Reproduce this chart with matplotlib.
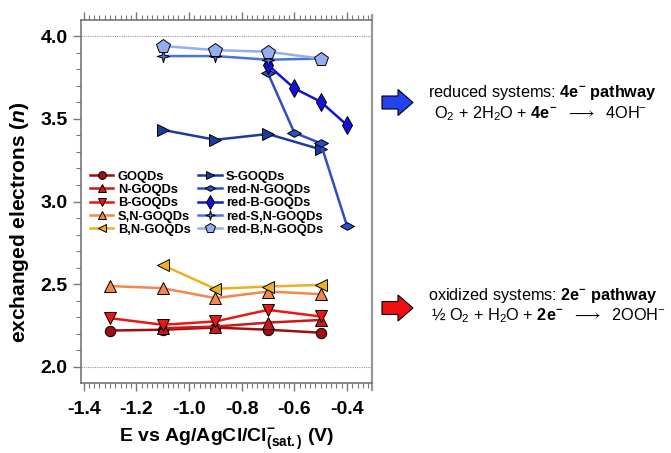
import matplotlib
matplotlib.use("Agg")
import matplotlib.pyplot as plt
from matplotlib.ticker import MultipleLocator
from matplotlib.patches import FancyArrow
from matplotlib.path import Path
from matplotlib.lines import Line2D

plt.rcParams['font.family'] = ['Liberation Sans', 'DejaVu Sans']
plt.rcParams['mathtext.fontset'] = 'custom'
plt.rcParams['mathtext.rm'] = 'Liberation Sans'
plt.rcParams['mathtext.it'] = 'Liberation Sans:italic'
plt.rcParams['mathtext.bf'] = 'Liberation Sans:bold'
plt.rcParams['mathtext.bfit'] = 'Liberation Sans:italic:bold'

# ---- data: potential (V) and number of exchanged electrons ----
E_goqd = [-1.3, -1.1, -0.9, -0.7, -0.5]
n_goqd = [2.22, 2.225, 2.238, 2.225, 2.207]

E_n = [-1.1, -0.9, -0.7, -0.5]
n_n = [2.234, 2.244, 2.268, 2.284]

E_b = [-1.3, -1.1, -0.9, -0.7, -0.5]
n_b = [2.295, 2.255, 2.275, 2.345, 2.305]

E_sn = [-1.3, -1.1, -0.9, -0.7, -0.5]
n_sn = [2.489, 2.476, 2.416, 2.456, 2.44]

E_bn = [-1.1, -0.9, -0.7, -0.5]
n_bn = [2.616, 2.472, 2.486, 2.496]

E_s = [-1.1, -0.9, -0.7, -0.5]
n_s = [3.433, 3.373, 3.408, 3.315]

E_redn = [-0.7, -0.6, -0.5, -0.4]
n_redn = [3.775, 3.416, 3.352, 2.853]

E_redb = [-0.7, -0.6, -0.5, -0.4]
n_redb = [3.825, 3.684, 3.603, 3.462]

E_redsn = [-1.1, -0.9, -0.7, -0.5]
n_redsn = [3.879, 3.879, 3.857, 3.864]

E_redbn = [-1.1, -0.9, -0.7, -0.5]
n_redbn = [3.94, 3.915, 3.905, 3.864]

labels = ['GOQDs', 'N-GOQDs', 'B-GOQDs', 'S,N-GOQDs', 'B,N-GOQDs',
          'S-GOQDs', 'red-N-GOQDs', 'red-B-GOQDs', 'red-S,N-GOQDs', 'red-B,N-GOQDs']

flat_diamond = Path([(-1, 0), (0, 0.55), (1, 0), (0, -0.55), (-1, 0)],
                    [Path.MOVETO, Path.LINETO, Path.LINETO, Path.LINETO, Path.CLOSEPOLY])
star4 = Path([(0, 1), (0.22, 0.22), (1, 0), (0.22, -0.22), (0, -1),
              (-0.22, -0.22), (-1, 0), (-0.22, 0.22), (0, 1)],
             [Path.MOVETO] + [Path.LINETO] * 7 + [Path.CLOSEPOLY])

series = [
    (E_goqd, n_goqd, '#9E1010', 'o', 7.5),
    (E_n, n_n, '#CC1818', '^', 8),
    (E_b, n_b, '#EE1515', 'v', 8),
    (E_sn, n_sn, '#F0884C', '^', 8.5),
    (E_bn, n_bn, '#EDB020', '<', 8.5),
    (E_s, n_s, '#1F3A9E', '>', 8.5),
    (E_redn, n_redn, '#2D4FC0', flat_diamond, 10),
    (E_redb, n_redb, '#1212D8', 'd', 9),
    (E_redsn, n_redsn, '#4A72E0', star4, 9),
    (E_redbn, n_redbn, '#95AEF2', 'p', 10),
]

W, H = 671, 453
fig = plt.figure(figsize=(W / 100, H / 100), dpi=100)
ax = fig.add_axes([81 / W, 1 - 383 / H, (372 - 81) / W, (383 - 20) / H])

for (x, y, c, m, ms), lab in zip(series, labels):
    ax.plot(x, y, color=c, lw=1.8, marker=m, ms=ms, mfc=c, mec='black',
            mew=0.7, label=lab, zorder=3)

ax.axhline(4.0, color='#999999', ls=(0, (1, 1)), lw=0.8, zorder=1)
ax.axhline(2.0, color='#999999', ls=(0, (1, 1)), lw=0.8, zorder=1)

ax.set_xlim(-1.41, -0.305)
ax.set_ylim(1.903, 4.097)
ax.xaxis.set_major_locator(MultipleLocator(0.2))
ax.xaxis.set_minor_locator(MultipleLocator(0.02))
ax.yaxis.set_major_locator(MultipleLocator(0.5))
ax.yaxis.set_minor_locator(MultipleLocator(0.1))
ax.xaxis.set_major_formatter(plt.FuncFormatter(lambda v, p: f"{v:.1f}"))
ax.yaxis.set_major_formatter(plt.FuncFormatter(lambda v, p: f"{v:.1f}"))

ax.tick_params(axis='x', which='both', top=True, bottom=True, direction='out',
               color='#777777', labelsize=14)
ax.tick_params(axis='x', which='major', pad=7)
ax.tick_params(axis='y', which='both', left=True, right=False, direction='out',
               color='#777777', labelsize=14)
ax.tick_params(which='major', length=6, width=1)
ax.tick_params(which='minor', length=3.5, width=0.8)
for lab in ax.get_xticklabels() + ax.get_yticklabels():
    lab.set_fontweight('bold')

for side in ['left', 'top', 'bottom']:
    ax.spines[side].set_color('#777777')
    ax.spines[side].set_linewidth(1.2)
ax.spines['right'].set_visible(False)
ax.add_line(Line2D([1, 1], [-0.02, 1.014], transform=ax.transAxes,
                   color='#999999', lw=1.6, clip_on=False))

ax.set_ylabel(r"exchanged electrons ($\mathbfit{n}$)", fontsize=15,
              fontweight='bold')
ax.yaxis.set_label_coords(-0.172, 0.443)
ax.set_xlabel(r"E vs Ag/AgCl/Cl$^{\mathbf{-}}_{\mathbf{(sat.)}}$ (V)",
              fontsize=14, fontweight='bold', labelpad=6)

leg = ax.legend(ncol=2, loc='upper left', bbox_to_anchor=(0.0, 0.61),
                frameon=False, prop={'weight': 'bold', 'size': 9.3},
                handlelength=1.8, handletextpad=0.35, columnspacing=0.6,
                labelspacing=0.1, markerscale=0.75, borderaxespad=0.3)

# ---- right-hand annotations in pixel coordinates ----
ov = fig.add_axes([0, 0, 1, 1], zorder=5)
ov.set_xlim(0, W)
ov.set_ylim(H, 0)
ov.axis('off')

for yc, col in [(102.5, '#2442F0'), (308.0, '#EE1010')]:
    ov.add_patch(FancyArrow(382, yc, 31, 0, width=13, head_width=26,
                            head_length=15, length_includes_head=True,
                            fc=col, ec='black', lw=0.8))

fs = 11.7
ov.text(428, 97, r"reduced systems: $\mathbf{4e^{-}\ pathway}$", fontsize=fs,
        va='baseline', ha='left')
ov.text(434, 118, r"O$_2$ + 2H$_2$O + $\mathbf{4e^{-}}$  $\longrightarrow$  4OH$^{-}$",
        fontsize=fs, va='baseline', ha='left')
ov.text(428, 300, r"oxidized systems: $\mathbf{2e^{-}\ pathway}$", fontsize=fs,
        va='baseline', ha='left')
ov.text(431, 320, r"½ O$_2$ + H$_2$O + $\mathbf{2e^{-}}$  $\longrightarrow$  2OOH$^{-}$",
        fontsize=fs, va='baseline', ha='left')

fig.savefig("out.png", dpi=100)
